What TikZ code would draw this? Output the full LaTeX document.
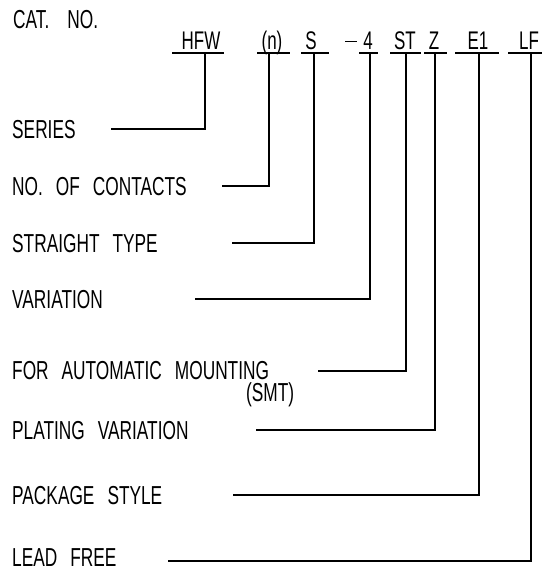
\documentclass[tikz,border=0pt]{standalone}
\usepackage{fontspec}
\setmainfont{Liberation Sans}[FakeStretch=0.665]
\newcommand{\wg}{\hspace{13pt}}
\begin{document}
\begin{tikzpicture}[x=1pt,y=-1pt,
  lbl/.style={anchor=base west,inner sep=0pt,font=\fontsize{26}{28}\selectfont},
  code/.style={anchor=base,inner sep=0pt,font=\fontsize{25.5}{27}\selectfont},
  ln/.style={line width=1.2pt}]
\useasboundingbox (0,0) rectangle (549,570);
% title
\node[lbl] (cat) at (13,28) {CAT.\hspace{18pt}NO.};
% code parts
\node[code] (hfw) at (201,49) {HFW};
\node[code] (n) at (272,49) {(n)};
\node[code] (s) at (311,49) {S};
\node[code] (four) at (359,49) {\rule[7pt]{12pt}{1.2pt}\hspace{6pt}4};
\node[code] (st) at (405,49) {ST};
\node[code] (z) at (434,49) {Z};
\node[code] (e1) at (478,49) {E1};
\node[code] (lf) at (529,49) {LF};
% underlines
\coordinate (ua1) at (172,53); \coordinate (ub1) at (224,53);
\coordinate (ua2) at (257,53); \coordinate (ub2) at (290,53);
\coordinate (ua3) at (301,53); \coordinate (ub3) at (329,53);
\coordinate (ua4) at (359,53); \coordinate (ub4) at (378,53);
\coordinate (ua5) at (390,53); \coordinate (ub5) at (421,53);
\coordinate (ua6) at (424,53); \coordinate (ub6) at (447,53);
\coordinate (ua7) at (455,53); \coordinate (ub7) at (499,53);
\coordinate (ua8) at (508,53); \coordinate (ub8) at (542,53);
\foreach \i in {1,...,8} {\draw[ln] (ua\i) -- (ub\i);}
% top points of verticals
\coordinate (v1) at (205,53);
\coordinate (v2) at (269,53);
\coordinate (v3) at (314,53);
\coordinate (v4) at (370,53);
\coordinate (v5) at (406,53);
\coordinate (v6) at (435,53);
\coordinate (v7) at (479,53);
\coordinate (v8) at (531,53);
% labels
\node[lbl] (l1) at (12,138) {SERIES};
\node[lbl] (l2) at (12,195.5) {NO.\wg OF\wg CONTACTS};
\node[lbl] (l3) at (12,252.5) {STRAIGHT\wg TYPE};
\node[lbl] (l4) at (12,308) {VARIATION};
\node[lbl] (l5) at (12,379.5) {FOR\wg AUTOMATIC\wg MOUNTING};
\node[lbl] (l5b) at (246,401.5) {(SMT)};
\node[lbl] (l6) at (12,439) {PLATING\wg VARIATION};
\node[lbl] (l7) at (12,504) {PACKAGE\wg STYLE};
\node[lbl] (l8) at (12,566) {LEAD\wg FREE};
% line starts
\coordinate (h1) at (111,129);
\coordinate (h2) at (222,186);
\coordinate (h3) at (232,243);
\coordinate (h4) at (195,299);
\coordinate (h5) at (318,371);
\coordinate (h6) at (256,430);
\coordinate (h7) at (233,495);
\coordinate (h8) at (168,561);
\foreach \i in {1,...,8} {\draw[ln] (v\i) |- (h\i);}
\end{tikzpicture}
\end{document}
